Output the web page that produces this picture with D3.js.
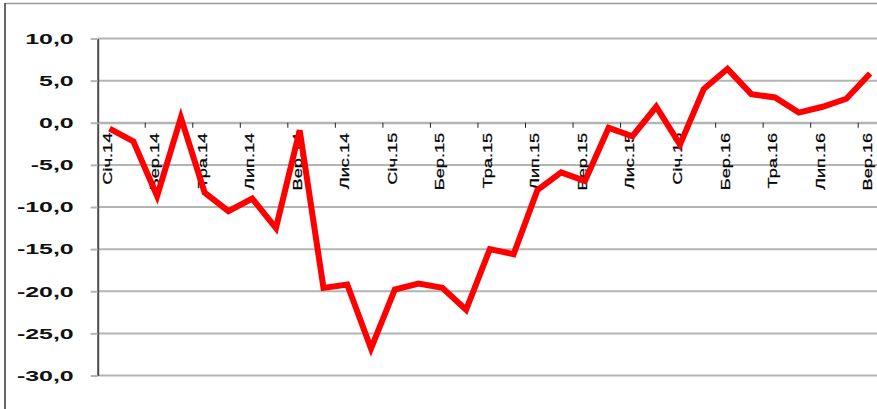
<!DOCTYPE html>
<html>
<head>
<meta charset="utf-8">
<script src="https://cdn.jsdelivr.net/npm/d3@7"></script>
<style>
  html, body { margin: 0; padding: 0; background: #fff; }
  svg { display: block; }
</style>
</head>
<body>
<svg id="chart" width="877" height="409"></svg>
<script>
// ---- data ----
const categories = [
  "Січ.14","Лют.14","Бер.14","Кві.14","Тра.14","Чер.14","Лип.14","Сер.14","Вер.14","Жов.14","Лис.14","Гру.14",
  "Січ.15","Лют.15","Бер.15","Кві.15","Тра.15","Чер.15","Лип.15","Сер.15","Вер.15","Жов.15","Лис.15","Гру.15",
  "Січ.16","Лют.16","Бер.16","Кві.16","Тра.16","Чер.16","Лип.16","Сер.16","Вер.16"
];
const values = [
  -0.7, -2.2, -8.7, 0.6, -8.3, -10.5, -9.0, -12.5, -0.9, -19.6, -19.2, -26.8,
  -19.8, -19.1, -19.6, -22.2, -15.0, -15.6, -8.0, -5.9, -6.9, -0.6, -1.6, 1.9,
  -2.6, 4.0, 6.4, 3.4, 3.0, 1.2, 1.9, 2.85, 5.85
];
const labelledCategories = categories.filter((d, i) => i % 2 === 0);
const yTicks = [10, 5, 0, -5, -10, -15, -20, -25, -30];

// ---- layout ----
const svg = d3.select("#chart");
const plotLeft = 97.7, plotRight = 882, plotTop = 38.5, plotBottom = 375.5;

const x = d3.scaleBand().domain(categories).range([plotLeft, plotRight]).paddingInner(0).paddingOuter(0);
const y = d3.scaleLinear().domain([-30, 10]).range([plotBottom, plotTop]);

// frame
svg.append("line").attr("x1", 5).attr("x2", 877).attr("y1", 3.5).attr("y2", 3.5)
  .attr("stroke", "#9a9a9a").attr("stroke-width", 1.5);
svg.append("line").attr("x1", 5).attr("x2", 5).attr("y1", 3).attr("y2", 409)
  .attr("stroke", "#333").attr("stroke-width", 1.5);

// gridlines
svg.append("g").selectAll("line").data(yTicks).join("line")
  .attr("x1", plotLeft).attr("x2", 877)
  .attr("y1", d => y(d)).attr("y2", d => y(d))
  .attr("stroke", "#b4b4b4").attr("stroke-width", 2);

// y axis
const fmt = d => d.toFixed(1).replace(".", ",");
const yAxis = svg.append("g").attr("transform", `translate(${plotLeft},0)`)
  .call(d3.axisLeft(y).tickValues(yTicks).tickSize(7).tickSizeOuter(0).tickFormat(fmt));
yAxis.select(".domain").attr("stroke", "#4a4a4a").attr("stroke-width", 2);
yAxis.selectAll(".tick line").attr("stroke", "#b4b4b4").attr("stroke-width", 2);
yAxis.selectAll(".tick text")
  .attr("x", null).attr("dy", null)
  .attr("font-family", "'Liberation Sans', Arial, sans-serif")
  .attr("font-weight", "bold").attr("font-size", 14).attr("fill", "#111")
  .attr("text-anchor", "end").attr("dominant-baseline", "central")
  .attr("transform", "translate(-24,0) scale(1.78,1)");

// x axis (zero line) with category labels
const xAxis = svg.append("g").attr("transform", `translate(0,${y(0)})`)
  .call(d3.axisBottom(x).tickValues(labelledCategories).tickSize(0).tickSizeOuter(0));
xAxis.select(".domain").attr("stroke", "#b4b4b4").attr("stroke-width", 2);
xAxis.selectAll(".tick text")
  .attr("y", null).attr("dy", null).attr("x", null)
  .attr("font-family", "'Liberation Sans', Arial, sans-serif")
  .attr("font-size", 13.5).attr("fill", "#000")
  .attr("stroke", "#000").attr("stroke-width", 0.25)
  .attr("text-anchor", "end")
  .attr("transform", "translate(2,10) rotate(-90) scale(1.35,1)");

// tick marks between categories (every 2nd boundary)
const boundaries = categories.map((d, i) => i).filter(i => i > 0 && i % 2 === 0);
svg.append("g").selectAll("line").data(boundaries).join("line")
  .attr("x1", i => x(categories[i])).attr("x2", i => x(categories[i]))
  .attr("y1", y(0)).attr("y2", y(0) + 5)
  .attr("stroke", "#222").attr("stroke-width", 1);

// series line
const line = d3.line()
  .x((d, i) => x(categories[i]) + x.bandwidth() / 2)
  .y(d => y(d));
svg.append("path").datum(values)
  .attr("d", line)
  .attr("fill", "none").attr("stroke", "#ff0000").attr("stroke-width", 6)
  .attr("stroke-linejoin", "miter").attr("stroke-miterlimit", 4);
</script>
</body>
</html>
